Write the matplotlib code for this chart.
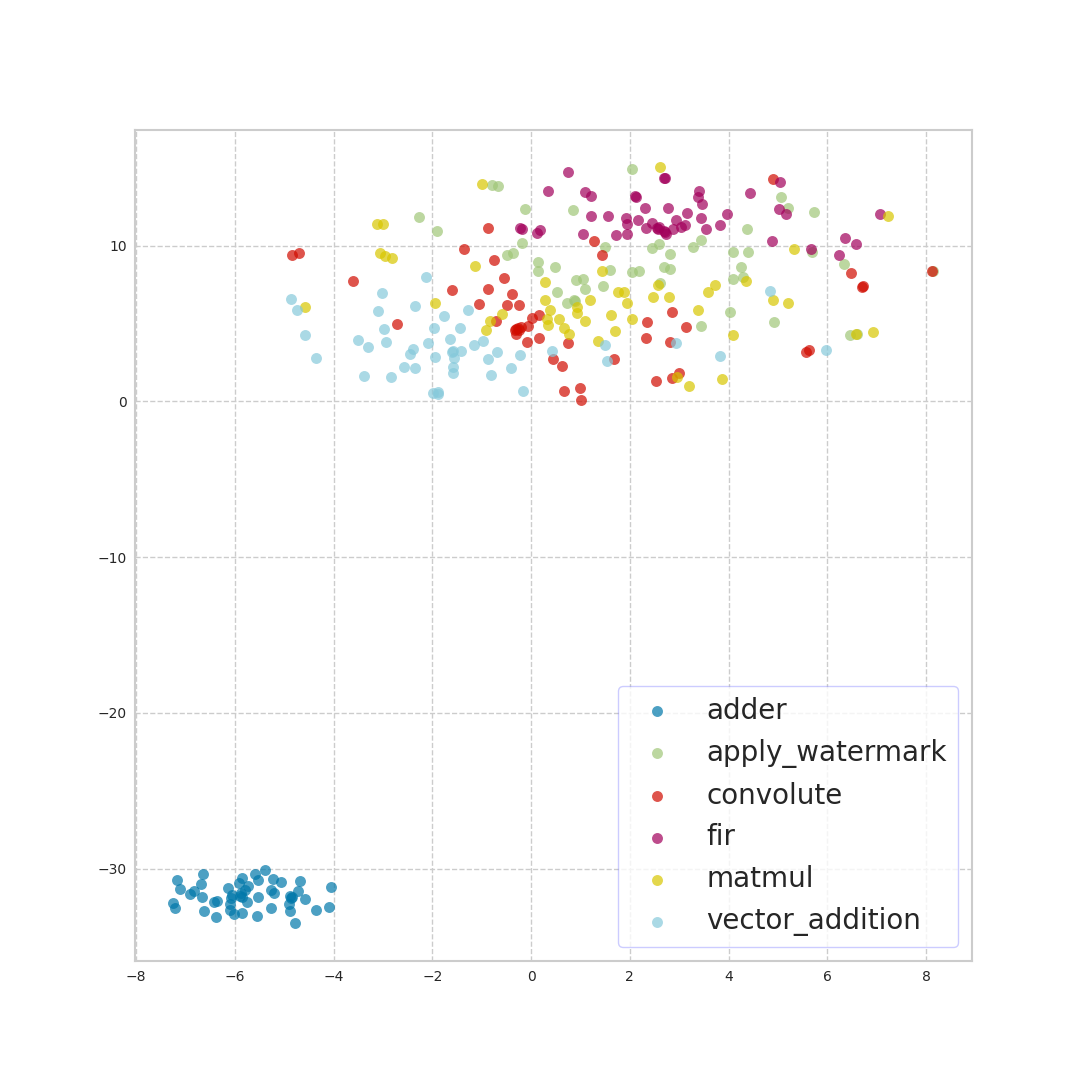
import matplotlib
matplotlib.use("Agg")
from matplotlib import pyplot as plt

labels = ["adder", "apply_watermark", "convolute", "fir", "matmul", "vector_addition"]
colors = ["#0078AA", "#A0C678", "#D00C00", "#A2005B", "#D8C600", "#86C9DB"]

# values
adder_x = [-7.17, -6.65, -7.11, -6.69, -6.83, -6.91, -6.67, -7.26, -7.21, -6.63, -6.43, -6.36, -6.38,
           -6.14, -6.09, -6.07, -6.05, -6.09, -6.01, -5.85, -5.55, -5.76, -5.53, -5.86, -5.87, -5.80,
           -5.74, -5.92, -5.85, -5.59, -5.53, -5.39, -5.23, -5.07, -4.68, -4.72, -5.26, -5.21, -4.88,
           -4.84, -4.86, -4.91, -4.88, -5.27, -4.58, -4.78, -4.36, -4.09, -4.05, -5.90]
adder_y = [-30.75, -30.34, -31.33, -31.01, -31.44, -31.63, -31.84, -32.21, -32.51, -32.74, -32.16,
           -32.08, -33.13, -31.26, -32.27, -31.91, -31.69, -32.66, -32.91, -32.87, -33.06, -32.16,
           -31.84, -31.80, -31.59, -31.37, -31.11, -30.90, -30.60, -30.34, -30.75, -30.11, -30.69,
           -30.88, -30.81, -31.46, -31.39, -31.59, -31.78, -31.82, -31.91, -32.29, -32.74, -32.55,
           -31.97, -33.51, -32.68, -32.48, -31.20, -31.75]

watermark_x = [-0.79, -0.67, -2.27, -1.91, -0.13, 0.85, -0.19, -0.49, -0.37, 0.14, 0.14, 0.48, 1.50,
               1.60, 0.91, 1.05, 1.09, 1.46, 0.52, 0.73, 0.87, 0.90, 2.04, 2.45, 2.59, 2.81, 2.69,
               2.81, 2.04, 2.18, 2.61, 3.28, 3.44, 4.37, 4.09, 4.39, 4.25, 4.09, 4.29, 4.03, 3.44,
               4.92, 5.06, 5.20, 5.73, 5.69, 6.34, 6.46, 6.60, 8.15]
watermark_y = [13.90, 13.82, 11.83, 10.93, 12.34, 12.28, 10.16, 9.38, 9.51, 8.94, 8.36, 8.61, 9.90,
               8.42, 7.78, 7.84, 7.20, 7.39, 7.01, 6.30, 6.49, 6.43, 14.91, 9.83, 10.09, 9.45, 8.61,
               8.49, 8.29, 8.36, 7.59, 9.90, 10.35, 11.05, 9.58, 9.58, 8.61, 7.84, 7.97, 5.72, 4.82,
               5.08, 13.11, 12.40, 12.15, 9.62, 8.81, 4.25, 4.31, 8.38]

convolute_x = [-4.85, -4.70, -3.61, -2.72, -1.36, -0.87, -0.75, -0.55, -1.60, -0.87, -0.39, -1.06,
               -0.49, -0.25, -0.71, 0.02, 0.16, -0.06, -0.08, 0.16, -0.30, -0.25, -0.20, -0.31, -0.27,
               -0.33, 0.75, 0.44, 0.63, 0.67, 0.99, 1.01, 1.27, 1.44, 1.68, 4.89, 6.48, 6.71, 6.72,
               2.85, 2.35, 3.14, 2.33, 2.81, 5.57, 5.63, 2.53, 2.85, 2.99, 8.13]
convolute_y = [9.38, 9.51, 7.72, 4.95, 9.77, 11.12, 9.06, 7.91, 7.14, 7.20, 6.88, 6.24, 6.17, 6.17,
               5.15, 5.34, 5.53, 4.82, 3.80, 4.05, 4.63, 4.57, 4.76, 4.31, 4.70, 4.59, 3.73, 2.71,
               2.26, 0.65, 0.84, 0.07, 10.28, 9.38, 2.71, 14.27, 8.23, 7.37, 7.39, 5.72, 5.08, 4.76,
               4.05, 3.80, 3.16, 3.28, 1.29, 1.48, 1.81, 8.38]

fir_x = [0.75, 0.34, 1.09, 1.21, 1.21, 1.56, -0.22, -0.19, 0.12, 0.18, 1.05, 1.72, 1.94, 1.94, 1.92,
         2.11, 2.12, 2.16, 2.31, 2.33, 2.45, 2.55, 2.59, 2.58, 2.69, 2.71, 2.72, 2.74, 2.70, 2.77,
         2.87, 2.93, 3.04, 3.12, 3.16, 3.40, 3.38, 3.46, 3.44, 3.54, 3.83, 3.97, 4.43, 4.88, 5.04,
         5.02, 5.17, 5.67, 6.36, 6.58, 6.24, 7.07]
fir_y = [14.72, 13.50, 13.43, 13.22, 11.89, 11.89, 11.12, 11.05, 10.80, 10.99, 10.73, 10.67, 10.73,
         11.38, 11.76, 13.17, 13.15, 11.63, 12.40, 11.12, 11.44, 11.12, 11.18, 11.05, 14.33, 14.33,
         10.86, 10.73, 10.95, 12.40, 11.08, 11.63, 11.18, 11.31, 12.08, 13.50, 13.11, 12.66, 11.76,
         11.05, 11.31, 12.02, 13.37, 10.28, 14.07, 12.34, 12.02, 9.77, 10.48, 10.09, 9.38, 12.02]

matmul_x = [-1.00, -3.12, -3.00, -3.06, -2.96, -2.82, -1.14, -4.57, -1.95, -0.59, -0.84, -0.92, 0.28,
            1.44, 1.77, 0.28, 1.19, 0.93, 0.93, 0.38, 0.32, 0.34, 0.56, 0.67, 0.77, 1.09, 1.62, 1.70,
            1.35, 2.61, 7.23, 5.32, 1.88, 1.94, 2.04, 2.57, 2.47, 2.79, 3.58, 3.72, 3.38, 4.35, 4.09,
            4.90, 5.20, 6.92, 6.59, 2.95, 3.20, 3.87]
matmul_y = [13.97, 11.38, 11.38, 9.51, 9.32, 9.19, 8.68, 6.05, 6.30, 5.60, 5.15, 4.57, 7.65, 8.36,
            7.01, 6.49, 6.49, 6.05, 5.66, 5.85, 5.27, 4.89, 5.27, 4.70, 4.31, 5.15, 5.53, 4.50, 3.86,
            15.04, 11.89, 9.77, 7.01, 6.30, 5.27, 7.46, 6.69, 6.69, 7.01, 7.46, 5.85, 7.72, 4.25,
            6.49, 6.30, 4.44, 4.31, 1.55, 0.97, 1.42]

vector_x = [-4.87, -4.74, -4.58, -4.36, -3.51, -3.31, -3.39, -2.84, -2.94, -2.98, -3.10, -3.02, -2.13,
            -2.35, -2.58, -2.35, -2.39, -2.45, -2.08, -1.95, -1.97, -1.77, -1.44, -1.64, -1.28, -1.60,
            -1.58, -1.42, -1.56, -1.58, -1.58, -1.99, -1.89, -1.89, -1.16, -0.98, -0.87, -0.69, -0.81,
            -0.41, -0.23, -0.17, 0.42, 1.50, 1.54, 2.93, 3.83, 4.84, 5.97]
vector_y = [6.58, 5.85, 4.25, 2.77, 3.93, 3.48, 1.61, 1.55, 3.80, 4.63, 5.79, 6.94, 7.99, 6.11, 2.19,
            2.13, 3.35, 3.03, 3.73, 2.83, 4.70, 5.47, 4.70, 3.99, 5.85, 3.20, 3.22, 3.22, 2.77, 2.19,
            1.81, 0.52, 0.59, 0.46, 3.60, 3.86, 2.71, 3.16, 1.68, 2.13, 2.96, 0.65, 3.22, 3.60, 2.58,
            3.73, 2.90, 7.07, 3.28]

series_x = [adder_x, watermark_x, convolute_x, fir_x, matmul_x, vector_x]
series_y = [adder_y, watermark_y, convolute_y, fir_y, matmul_y, vector_y]

fig, ax = plt.subplots(figsize=(10.8, 10.8), dpi=100)

for x, y, label, color in zip(series_x, series_y, labels, colors):
    ax.scatter(x, y, s=62, c=color, alpha=0.7, linewidths=0, label=label, zorder=3)

ax.set_xlim(-8.02, 8.93)
ax.set_ylim(-35.95, 17.46)
ax.set_xticks(range(-8, 9, 2))
ax.set_yticks([-30, -20, -10, 0, 10])

# light dashed grid, no tick marks
ax.grid(True, color="0.8", linestyle="--", linewidth=1)
ax.set_axisbelow(True)
ax.tick_params(length=0, labelsize=10, labelcolor="0.15", pad=6)
for spine in ax.spines.values():
    spine.set_color("0.8")
    spine.set_linewidth(1.5)

legend = ax.legend(loc="lower right", fontsize=20, labelcolor="0.15")
frame = legend.get_frame()
frame.set_alpha(None)  # otherwise framealpha wins over the edge colour's alpha
frame.set_facecolor((1, 1, 1, 0.8))
frame.set_edgecolor((0, 0, 1, 0.2))
frame.set_linewidth(1)

fig.savefig("out.png", dpi=100)
